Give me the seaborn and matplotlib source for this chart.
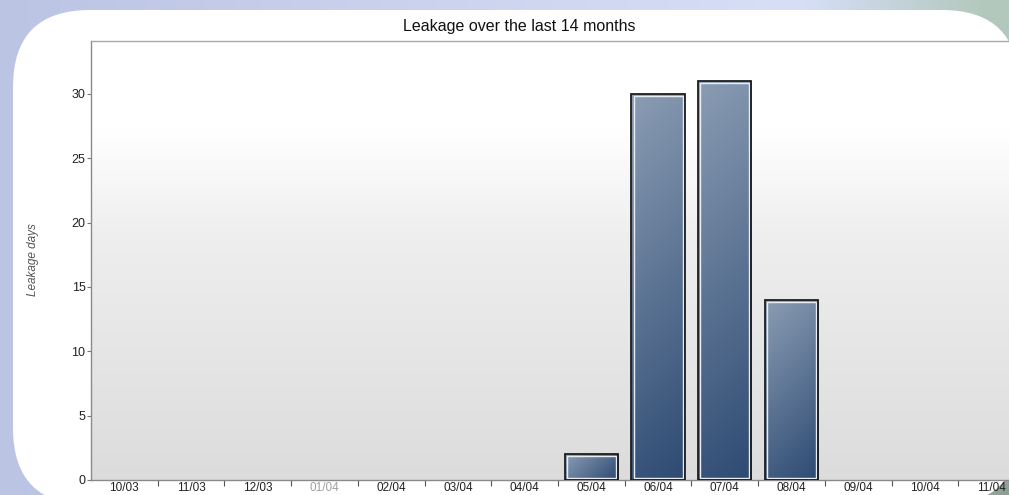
import numpy as np
import pandas as pd
import matplotlib
matplotlib.use("Agg")
import matplotlib.pyplot as plt
import seaborn as sns
from matplotlib.patches import FancyBboxPatch, Rectangle
from matplotlib.colors import LinearSegmentedColormap, to_rgb

# --- data -----------------------------------------------------------------
months = ["10/03", "11/03", "12/03", "01/04", "02/04", "03/04", "04/04",
          "05/04", "06/04", "07/04", "08/04", "09/04", "10/04", "11/04"]
leak_days = [0, 0, 0, 0, 0, 0, 0, 2, 30, 31, 14, 0, 0, 0]
y_ticks = [0, 5, 10, 15, 20, 25, 30]
title = "Leakage over the last 14 months"
y_label = "Leakage days"
muted_months = ["01/04"]

df = pd.DataFrame({"month": months, "days": leak_days})

sns.set_theme(style="white")
plt.rcParams["font.family"] = ["Liberation Sans", "DejaVu Sans"]

W, H = 1009, 495
fig = plt.figure(figsize=(W / 100, H / 100), dpi=100)

# --- backdrop: soft lavender-to-sage frame with a rounded white panel ------
bg = fig.add_axes([0, 0, 1, 1], zorder=-5)
xs = np.linspace(0, 1, 400)
ys = np.linspace(0, 1, 200)
X, Y = np.meshgrid(xs, ys)
left_c = np.array(to_rgb("#bcc4e4"))
mid_c = np.array(to_rgb("#d6def6"))
right_c = np.array(to_rgb("#b2c8bc"))
t1 = np.clip(X / 0.75, 0, 1)[..., None]
t2 = np.clip((X - 0.80) / 0.18, 0, 1)[..., None]
img = left_c * (1 - t1) + mid_c * t1
img = img * (1 - t2) + right_c * t2
dark = np.clip((X - 0.9) * 6, 0, 1) * np.clip((Y - 0.8) * 5, 0, 1)
img = img * (1 - 0.35 * dark[..., None])
bg.imshow(img, extent=(0, W, H, 0), aspect="auto")
bg.add_patch(FancyBboxPatch((13, 10), 1006, 495,
                            boxstyle="round,pad=0,rounding_size=77",
                            facecolor="white", edgecolor="none"))
bg.set_xlim(0, W)
bg.set_ylim(H, 0)
bg.axis("off")

# --- chart axes ---------------------------------------------------------------
left, right, top, bottom = 91, 1025, 41, 480
ax = fig.add_axes([left / W, (H - bottom) / H, (right - left) / W, (bottom - top) / H])

# plot area: white at the top fading to light grey
shade = np.linspace(0, 1, 256)[:, None]
shade_cmap = LinearSegmentedColormap.from_list(
    "area", [(0, "#dcdcdc"), (0.55, "#eeeeee"), (0.8, "#ffffff"), (1, "#ffffff")])
ax.imshow(shade, cmap=shade_cmap, extent=(0, 1, 0, 1), origin="lower",
          transform=ax.transAxes, aspect="auto", zorder=0)

sns.barplot(data=df, x="month", y="days", width=0.8, color="#4a6488",
            saturation=1, edgecolor="none", ax=ax, zorder=2)

ax.set_xlim(-0.5, len(months) - 0.5)
ax.set_ylim(0, 34.1)

# gradient fill with dark outline and a thin white inner rim on each bar
bar_cmap = LinearSegmentedColormap.from_list("bar", ["#8b9db4", "#2d4a72"])
for p in ax.patches:
    h = p.get_height()
    if h <= 0:
        p.set_visible(False)
        continue
    x0, w = p.get_x(), p.get_width()
    (px0, py0), (px1, py1) = ax.transData.transform([(x0, 0), (x0 + w, h)])
    wpx, hpx = abs(px1 - px0), abs(py1 - py0)
    nx, ny = max(int(wpx), 2), max(int(hpx), 2)
    u = np.linspace(0, 1, nx)[None, :]
    v = np.linspace(0, 1, ny)[:, None]
    tt = (u * wpx + v * hpx) / (wpx + hpx)
    im = ax.imshow(tt, cmap=bar_cmap, vmin=0, vmax=1, origin="upper",
                   extent=(x0, x0 + w, 0, h), aspect="auto", zorder=2.2,
                   interpolation="bilinear")
    im.set_clip_path(p)
    dx = 2.2 * w / wpx
    dy = 2.2 * h / hpx
    ax.add_patch(Rectangle((x0 + dx, dy), w - 2 * dx, h - 2 * dy, facecolor="none",
                           edgecolor="#e8eef4", linewidth=1.0, zorder=2.5))
    p.set_facecolor("none")
    p.set_edgecolor("#1e1e1e")
    p.set_linewidth(1.3)
    p.set_zorder(3)

ax.set_xlim(-0.5, len(months) - 0.5)
ax.set_ylim(0, 34.1)

# ticks
ax.set_yticks(y_ticks)
ax.set_yticklabels([str(v) for v in y_ticks])
ax.set_xticks(range(len(months)))
ax.set_xticklabels(months)
ax.set_xticks(np.arange(0.5, len(months) - 0.5, 1), minor=True)
ax.tick_params(axis="x", which="major", length=0, pad=1.5, labelsize=8.5, labelcolor="#222222")
ax.tick_params(axis="x", which="minor", bottom=True, length=4, width=0.8,
               color="#555555", direction="out")
ax.tick_params(axis="y", which="major", left=True, length=3, width=0.8,
               color="#777777", direction="out", pad=1, labelsize=9, labelcolor="#222222")
for lab in ax.get_xticklabels():
    if lab.get_text() in muted_months:
        lab.set_color("#a0a0a0")

ax.set_xlabel("")
ax.set_ylabel("")
fig.text(33 / W, (H - 260) / H, y_label, rotation=90, fontsize=8.5, style="italic",
         color="#555555", ha="center", va="center")
fig.text(519 / W, (H - 27) / H, title, fontsize=11.5, color="#111111",
         ha="center", va="center")

for side in ["left", "bottom", "top"]:
    ax.spines[side].set_visible(True)
    ax.spines[side].set_color("#8a8a8a")
    ax.spines[side].set_linewidth(1.0)
ax.spines["top"].set_color("#a8a8a8")
ax.spines["right"].set_visible(False)

fig.savefig("out.png", dpi=100)
